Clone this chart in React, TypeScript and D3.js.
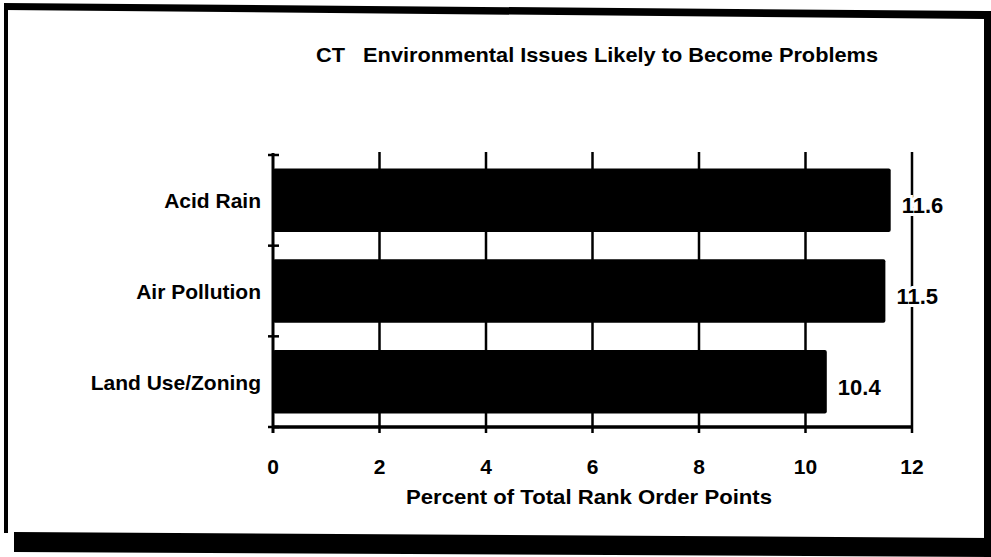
import * as d3 from 'd3'
import React from 'react'

const categories = ['Acid Rain', 'Air Pollution', 'Land Use/Zoning']
const values = [11.6, 11.5, 10.4]
const xTicks = [0, 2, 4, 6, 8, 10, 12]

const title = 'CT   Environmental Issues Likely to Become Problems'
const xTitle = 'Percent of Total Rank Order Points'

const W = 991
const H = 557
const font = '"Liberation Sans", Arial, sans-serif'

export default function App() {
  const x = d3.scaleLinear().domain([0, 12]).range([273, 912])
  const y = d3.scaleBand<string>().domain(categories).range([155, 427]).paddingInner(0.3).paddingOuter(0.15)

  const top = y.range()[0]
  const bottom = y.range()[1]
  const boundaries = d3.range(categories.length + 1).map((i) => top + i * y.step())

  return (
    <div style={{ position: 'fixed', left: 0, top: 0 }}>
      <svg width={W} height={H} style={{ display: 'block', background: '#fff' }}>
        {/* scanned frame */}
        <path d="M4,3 L985,11 L985,19 L4,10 Z" fill="#000" />
        <rect x={4} y={6} width={4} height={527} fill="#000" />
        <rect x={984} y={11} width={7} height={546} fill="#000" />
        <path d="M14,532 L991,538 L991,557 L14,552 Z" fill="#000" />

        <text x={316} y={62} fontFamily={font} fontSize={21} fontWeight="bold" textLength={562}
          lengthAdjust="spacingAndGlyphs" style={{ whiteSpace: 'pre' }}>
          {title}
        </text>

        {/* gridlines */}
        {xTicks.filter((t) => t > 0).map((t) => (
          <line key={t} x1={x(t)} x2={x(t)} y1={top - 3} y2={bottom + 6} stroke="#000" strokeWidth={2.5} />
        ))}

        {/* y axis */}
        <line x1={x(0)} x2={x(0)} y1={top - 2} y2={bottom + 6} stroke="#000" strokeWidth={3} />
        {boundaries.map((b, i) => (
          <line key={i} x1={x(0) - 5} x2={x(0) + 6} y1={b} y2={b} stroke="#000" strokeWidth={2.5} />
        ))}

        {/* x axis */}
        <line x1={x(0)} x2={x(12)} y1={bottom} y2={bottom} stroke="#000" strokeWidth={3.5} />

        {/* bars */}
        {categories.map((c, i) => (
          <rect key={c} x={x(0)} y={y(c)} width={x(values[i]) - x(0)} height={y.bandwidth()} rx={2} fill="#000" />
        ))}

        {/* value labels */}
        {categories.map((c, i) => (
          <text
            key={c}
            x={x(values[i]) + 11}
            y={(y(c) ?? 0) + y.bandwidth() / 2 + 13}
            fontFamily={font}
            fontSize={22}
            fontWeight="bold"
            fill="#000"
            stroke="#fff"
            strokeWidth={6}
            style={{ paintOrder: 'stroke' }}
          >
            {values[i].toFixed(1)}
          </text>
        ))}

        {/* category labels */}
        {categories.map((c) => (
          <text
            key={c}
            x={261}
            y={(y(c) ?? 0) + y.bandwidth() / 2 + 8}
            textAnchor="end"
            fontFamily={font}
            fontSize={21}
            fontWeight="bold"
            fill="#000"
          >
            {c}
          </text>
        ))}

        {/* tick labels */}
        {xTicks.map((t) => (
          <text key={t} x={x(t)} y={474} textAnchor="middle" fontFamily={font} fontSize={21} fontWeight="bold" fill="#000">
            {t}
          </text>
        ))}

        <text x={406} y={504} fontFamily={font} fontSize={21} fontWeight="bold" textLength={366}
          lengthAdjust="spacingAndGlyphs">
          {xTitle}
        </text>
      </svg>
    </div>
  )
}
